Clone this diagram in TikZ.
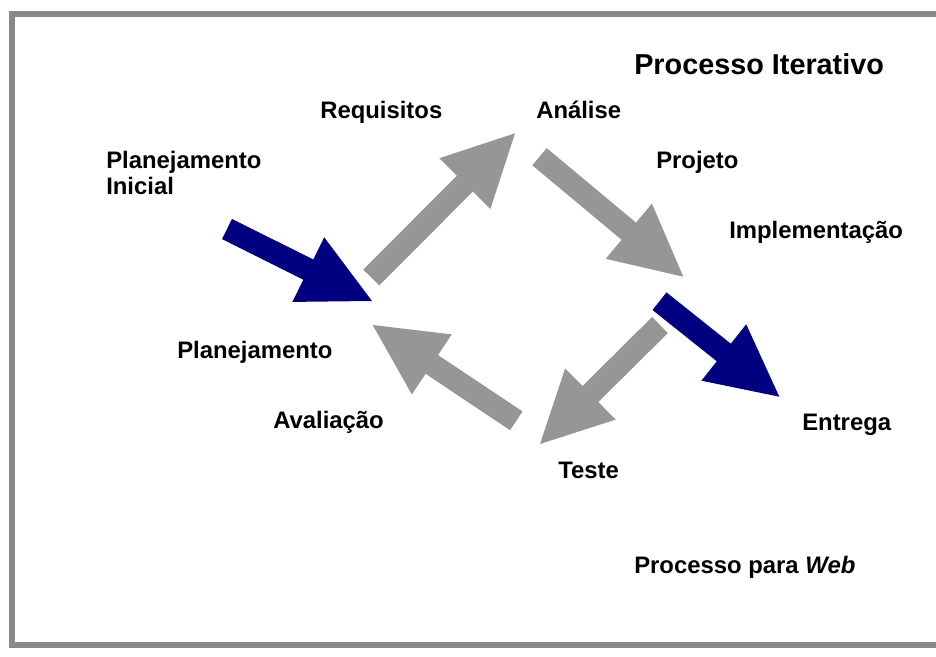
\documentclass[tikz,border=0pt]{standalone}
\usepackage{fontspec}
\setmainfont{Liberation Sans}
\begin{document}
\begin{tikzpicture}[x=0.75pt, y=-0.75pt]
% Colours and text styles
\definecolor{arrowgray}{RGB}{150,150,150}
\definecolor{arrownavy}{RGB}{0,0,128}
\definecolor{framegray}{RGB}{137,137,137}
\tikzset{
  steplabel/.style={anchor=base west, inner sep=0pt, font=\fontsize{17.9}{19.5}\selectfont\bfseries},
  titlelabel/.style={anchor=base west, inner sep=0pt, font=\fontsize{21.6}{24}\selectfont\bfseries},
  grayarrow/.style={fill=arrowgray},
  navyarrow/.style={fill=arrownavy}
}
\useasboundingbox (0,0) rectangle (936,657);
\clip (0,0) rectangle (936,657);

% Frame, open on the right
\draw[framegray, line width=4.5pt] (950,14) -- (12,14) -- (12,645) -- (950,645);

% Block arrows of the cycle
\fill[navyarrow] (222,239.1) -- (303.3,279.7) -- (292.4,301.9) -- (372,301) -- (324.2,237.3) -- (313.3,259.5) -- (232,218.9) -- cycle;
\fill[grayarrow] (363.3,269.6) -- (456.9,175.7) -- (439.4,158.2) -- (515,133.3) -- (490.4,209.0) -- (472.9,191.5) -- (379.3,285.4) -- cycle;
\fill[grayarrow] (532.3,165.3) -- (621.6,239.8) -- (605.7,258.8) -- (683.3,276.7) -- (651.9,203.6) -- (636.0,222.6) -- (546.7,148.1) -- cycle;
\fill[navyarrow] (652.5,310.0) -- (716.8,361.3) -- (701.4,380.7) -- (779.3,396.7) -- (746.2,324.3) -- (730.8,343.7) -- (666.5,292.4) -- cycle;
\fill[grayarrow] (652.1,317.0) -- (582.5,386.0) -- (565.1,368.4) -- (540,444) -- (615.7,419.6) -- (598.3,402.0) -- (667.9,333.0) -- cycle;
\fill[grayarrow] (522.5,411.4) -- (438.0,355.0) -- (451.8,334.4) -- (372.7,325) -- (411.8,394.4) -- (425.6,373.8) -- (510.1,430.2) -- cycle;

% Labels
\node[titlelabel] (iterativo) at (634,74) {Processo Iterativo};
\node[steplabel] (requisitos) at (320,118) {Requisitos};
\node[steplabel] (analise) at (536,118) {Análise};
\node[steplabel, anchor=north west, align=left] (inicial) at (106,151) {Planejamento\\Inicial};
\node[steplabel] (projeto) at (656,168) {Projeto};
\node[steplabel] (implementacao) at (729,238) {Implementação};
\node[steplabel] (planejamento) at (177,358) {Planejamento};
\node[steplabel] (avaliacao) at (273,428) {Avaliação};
\node[steplabel] (entrega) at (802,430) {Entrega};
\node[steplabel] (teste) at (558,478) {Teste};
\node[steplabel] (web) at (634,573) {Processo para \textit{Web}};
\end{tikzpicture}
\end{document}
